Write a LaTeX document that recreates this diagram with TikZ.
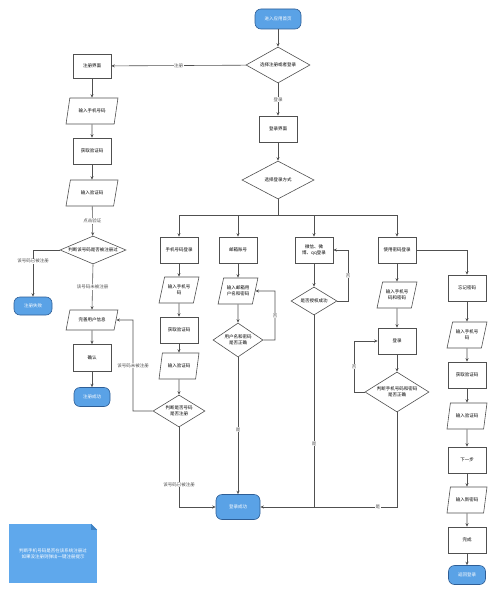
\documentclass[tikz,border=0pt]{standalone}
\usepackage{fontspec}
\setmainfont{Noto Sans CJK SC}
\usetikzlibrary{shapes.geometric,arrows.meta}
\definecolor{termblue}{HTML}{5AA2E6}
\definecolor{termline}{HTML}{2E5E96}
\definecolor{noteblue}{HTML}{5FA8EC}
\definecolor{foldblue}{HTML}{3F82C4}
\definecolor{flowgray}{HTML}{505050}
\newcommand{\tinyfont}{\fontsize{4.5}{5.6}\selectfont}
\tikzset{
  procbox/.style={rectangle, draw=flowgray, line width=0.6pt, fill=white,
    minimum width=38pt, minimum height=26pt, inner sep=1pt, align=center, font=\tinyfont},
  iobox/.style={trapezium, trapezium left angle=68, trapezium right angle=112,
    trapezium stretches=true, draw=flowgray, line width=0.6pt, fill=white,
    minimum width=40pt, minimum height=26pt, inner sep=1pt, align=center, font=\tinyfont},
  decision/.style={diamond, draw=flowgray, line width=0.6pt, fill=white,
    inner sep=0.5pt, align=center, font=\tinyfont},
  termin/.style={rectangle, rounded corners=6pt, draw=termline, line width=0.6pt,
    fill=termblue, text=white, minimum width=40pt, minimum height=19pt, align=center, font=\tinyfont},
  flow/.style={draw=flowgray, line width=0.6pt, -{Stealth[length=3.5pt,width=3pt]}},
  plain/.style={draw=flowgray, line width=0.6pt},
  lbl/.style={fill=white, inner sep=0.6pt, font=\tinyfont, text=flowgray}
}
\begin{document}
\begin{tikzpicture}[x=1pt, y=-1pt]
\useasboundingbox (0,0) rectangle (495,594);

% 首页与登录入口
\node[termin, minimum width=46pt, minimum height=20pt] at (278,19) (start) {进入应用首页};
\node[decision, minimum width=64pt, minimum height=36pt, shape aspect=1.8] at (278,65) (choose) {选择注册或者登录};
\node[procbox] at (278,129) (login) {登录界面};
\node[decision, minimum width=72pt, minimum height=38pt, shape aspect=1.9] at (278,180) (way) {选择登录方式};
\coordinate (split) at (278,215);

% 四种登录方式
\node[procbox] at (179,250) (phone) {手机号码登录};
\node[procbox] at (238,250) (mail) {邮箱账号};
\node[procbox] at (314,250) (social) {微信、微\\博、qq登录};
\node[procbox] at (397,250) (pwd) {使用密码登录};

% 手机号码登录
\node[iobox] at (179,290) (p1) {输入手机号\\码};
\node[procbox] at (179,330) (p2) {获取验证码};
\node[iobox] at (179,366) (p3) {输入验证码};
\node[decision, minimum width=52pt, minimum height=32pt, shape aspect=1.6] at (179,411) (p4) {判断是否号码\\是否注册};

% 邮箱账号
\node[iobox] at (238,291) (m1) {输入邮箱用\\户名和密码};
\node[decision, minimum width=50pt, minimum height=34pt, shape aspect=1.5] at (238,340) (m2) {用户名和密码\\是否正确};

% 第三方登录
\node[decision, minimum width=46pt, minimum height=28pt, shape aspect=1.65] at (314,301) (s1) {是否授权成功};

% 密码登录
\node[iobox] at (397,295) (w1) {输入手机号\\码和密码};
\node[procbox] at (397,341) (w2) {登录};
\node[decision, minimum width=64pt, minimum height=40pt, shape aspect=1.6] at (397,392) (w3) {判断手机号码和密码\\是否正确};

% 忘记密码
\node[procbox] at (467,288) (f1) {忘记密码};
\node[iobox] at (467,335) (f2) {输入手机号\\码};
\node[procbox] at (467,375) (f3) {获取验证码};
\node[iobox] at (467,416) (f4) {输入验证码};
\node[procbox] at (467,460) (f5) {下一步};
\node[iobox] at (467,500) (f6) {输入新密码};
\node[procbox] at (467,540) (f7) {完成};
\node[termin, minimum width=37pt] at (467,575) (f8) {返回登录};

\node[termin, minimum width=44pt, minimum height=25pt] at (238,507) (ok) {登录成功};

% 注册
\node[procbox, minimum height=24pt] at (92,66) (r0) {注册界面};
\node[iobox, minimum width=52pt] at (92,111) (r1) {输入手机号码};
\node[procbox] at (92,151) (r2) {获取验证码};
\node[iobox, minimum width=52pt] at (92,193) (r3) {输入验证码};
\node[decision, minimum width=66pt, minimum height=28pt, shape aspect=2.36] at (93,250) (r4) {判断该号码是否被注册过};
\node[termin, minimum width=38pt, minimum height=18pt] at (33,306) (rfail) {注册失败};
\node[iobox, minimum width=52pt, minimum height=20pt] at (92,320) (r5) {完善用户信息};
\node[procbox, minimum height=27pt] at (92,358) (r6) {确认};
\node[termin, minimum width=36pt] at (92,397) (rok) {注册成功};

% 说明
\node[rectangle, fill=noteblue, text=white, minimum width=88pt, minimum height=59pt,
      align=center, font=\tinyfont] at (53,553.5) (note) {判断手机号码是否在该系统注册过\\如果没注册则弹出一键注册提示};
\fill[white] (note.north east) -- ++(-6,0) -- ++(6,6) -- cycle;
\fill[foldblue] (note.north east) ++(-6,0) -- ++(0,6) -- ++(6,0) -- cycle;

% 连接
\draw[flow] (start) -- (choose);
\draw[flow] (choose) -- node[lbl]{登录} (login);
\draw[flow] (choose) -- node[lbl]{注册} (r0);
\draw[flow] (login) -- (way);
\draw[plain] (way) -- (split);
\draw[flow] (split) -| (phone);
\draw[flow] (split) -| (mail);
\draw[flow] (split) -| (social);
\draw[flow] (split) -| (pwd);

\draw[flow] (phone) -- (p1);
\draw[flow] (p1) -- (p2);
\draw[flow] (p2) -- (p3);
\draw[flow] (p3) -- (p4);
\coordinate (pback) at (133,320);
\draw[flow] (p4.west) -| node[lbl, pos=0.75]{该号码未被注册} (pback) -- (r5.east);
\draw[flow] (p4.south) |- node[lbl, pos=0.36]{该号码已被注册} (ok.west);

\draw[flow] (mail) -- (m1);
\draw[flow] (m1) -- (m2);
\coordinate (mloop) at (275,291);
\draw[flow] (m2.east) -| node[lbl, pos=0.75]{否} (mloop) -- (m1.east);
\draw[flow] (m2.south) -- node[lbl, pos=0.53]{是} (ok.north);

\draw[flow] (social) -- (s1);
\coordinate (sloop) at (348,250);
\draw[flow] (s1.east) -| node[lbl, pos=0.75]{否} (sloop) -- (social.east);
\draw[plain] (s1.south) -- node[lbl, pos=0.67]{是} (s1.south |- ok.east);

\draw[flow] (pwd) -- (w1);
\draw[flow] (w1) -- (w2);
\draw[flow] (w2) -- (w3);
\coordinate (wloop) at (354,341);
\draw[flow] (w3.west) -| node[lbl, pos=0.75]{否} (wloop) -- (w2.west);
\draw[flow] (w3.south) |- node[lbl, pos=0.57]{是} (ok.east);

\draw[flow] (pwd.east) -| (f1.north);
\draw[flow] (f1) -- (f2);
\draw[flow] (f2) -- (f3);
\draw[flow] (f3) -- (f4);
\draw[flow] (f4) -- (f5);
\draw[flow] (f5) -- (f6);
\draw[flow] (f6) -- (f7);
\draw[flow] (f7) -- (f8);

\draw[flow] (r0) -- (r1);
\draw[flow] (r1) -- (r2);
\draw[flow] (r2) -- (r3);
\draw[flow] (r3) -- node[lbl]{点击验证} (r4);
\draw[flow] (r4.west) -| node[lbl, pos=0.62]{该号码已被注册} (rfail.north);
\draw[flow] (r4.south) -- node[lbl]{该号码未被注册} (r5.north);
\draw[flow] (r5) -- (r6);
\draw[flow] (r6) -- (rok);
\end{tikzpicture}
\end{document}
